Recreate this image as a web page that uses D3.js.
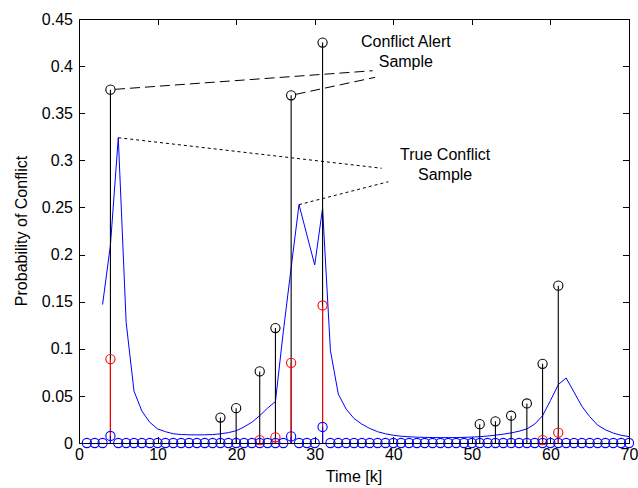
<!DOCTYPE html>
<html>
<head>
<meta charset="utf-8">
<script src="https://cdn.jsdelivr.net/npm/d3@7"></script>
<style>
  html, body { margin: 0; padding: 0; background: #fff; }
  svg { display: block; }
  text { font-family: "Liberation Sans", Arial, Helvetica, sans-serif; }
</style>
</head>
<body>
<svg id="chart" width="638" height="488"></svg>
<script>
// ---- data ----
const xTicks = [0, 10, 20, 30, 40, 50, 60, 70];
const yTicks = [0, 0.05, 0.1, 0.15, 0.2, 0.25, 0.3, 0.35, 0.4, 0.45];
const yTickLabels = ["0", "0.05", "0.1", "0.15", "0.2", "0.25", "0.3", "0.35", "0.4", "0.45"];

// continuous probability curve, k = 3 .. 70
const curveStartK = 3;
const curveV = [
  0.147, 0.210, 0.324, 0.128, 0.055, 0.034, 0.022, 0.015, 0.012, 0.0098,
  0.0090, 0.0087, 0.0086, 0.0087, 0.0090, 0.0097, 0.011, 0.013, 0.017, 0.022,
  0.029, 0.037, 0.044, 0.118, 0.186, 0.253, 0.221, 0.189, 0.249, 0.098,
  0.052, 0.036, 0.026, 0.020, 0.0155, 0.012, 0.0098, 0.0082, 0.0072, 0.0066,
  0.0062, 0.0060, 0.0058, 0.0057, 0.0057, 0.0058, 0.0060, 0.0063, 0.0067, 0.0074,
  0.0083, 0.0094, 0.0107, 0.0125, 0.0150, 0.020, 0.029, 0.045, 0.062, 0.069,
  0.054, 0.039, 0.028, 0.019, 0.0140, 0.0105, 0.0082, 0.0067
];

// sample instants k = 1 .. 70 (blue stems at every sample)
const sampleFirstK = 1, sampleLastK = 70;
const blueK = [4, 27, 31];
const blueV = [0.0075, 0.007, 0.017];

// true conflict samples (red)
const redK = [4, 23, 25, 27, 31, 59, 61];
const redV = [0.089, 0.003, 0.006, 0.085, 0.146, 0.003, 0.011];

// conflict alert samples (black)
const alertK = [4, 18, 20, 23, 25, 27, 31, 51, 53, 55, 57, 59, 61];
const alertV = [0.375, 0.027, 0.037, 0.076, 0.122, 0.369, 0.425, 0.020, 0.023, 0.029, 0.042, 0.084, 0.167];

// annotations (data coordinates)
const alertNoteLines = ["Conflict Alert", "Sample"];
const alertNoteAt = [41.6, 0.4265];
const alertPointers = [[4, 0.375, 37.38, 0.3951], [27, 0.369, 37.7, 0.3881]];
const trueNoteLines = ["True Conflict", "Sample"];
const trueNoteAt = [46.6, 0.3065];
const truePointers = [[5, 0.324, 38.53, 0.2916], [28, 0.253, 39.37, 0.2773]];

const xLabel = "Time [k]";
const yLabel = "Probability of Conflict";

// ---- drawing ----
const W = 638, H = 488;
const M = { left: 79, top: 19, right: 9, bottom: 45 };
const svg = d3.select("#chart");
svg.append("rect").attr("width", W).attr("height", H).attr("fill", "#fff");

const x = d3.scaleLinear().domain([0, 70]).range([M.left, W - M.right]);
const y = d3.scaleLinear().domain([0, 0.45]).range([H - M.bottom, M.top]);
const FS = 16;
const R = 4.6;

// axes
const gx = svg.append("g").attr("transform", `translate(0,${y(0)})`)
  .call(d3.axisBottom(x).tickValues(xTicks).tickFormat(d3.format("d")).tickSizeInner(-6).tickSizeOuter(0).tickPadding(6));
const gxt = svg.append("g").attr("transform", `translate(0,${y(0.45)})`)
  .call(d3.axisTop(x).tickValues(xTicks).tickFormat("").tickSizeInner(-6).tickSizeOuter(0));
const gy = svg.append("g").attr("transform", `translate(${x(0)},0)`)
  .call(d3.axisLeft(y).tickValues(yTicks).tickFormat((d, i) => yTickLabels[i]).tickSizeInner(-6).tickSizeOuter(0).tickPadding(6));
const gyr = svg.append("g").attr("transform", `translate(${x(70)},0)`)
  .call(d3.axisRight(y).tickValues(yTicks).tickFormat("").tickSizeInner(-6).tickSizeOuter(0));
[gx, gxt, gy, gyr].forEach(g => {
  g.selectAll("path,line").attr("stroke", "#000").attr("stroke-width", 1).attr("shape-rendering", "crispEdges");
  g.selectAll("text").attr("font-size", FS).attr("fill", "#000").attr("font-family", "Liberation Sans, Arial, sans-serif");
});

// curve
const curve = curveV.map((v, i) => [curveStartK + i, v]);
svg.append("path").datum(curve)
  .attr("fill", "none").attr("stroke", "#0000ff").attr("stroke-width", 1)
  .attr("d", d3.line().x(d => x(d[0])).y(d => y(d[1])));

function stems(ks, vs, color) {
  const data = ks.map((k, i) => [k, vs[i]]);
  const g = svg.append("g");
  g.selectAll("line").data(data).join("line")
    .attr("x1", d => x(d[0])).attr("x2", d => x(d[0]))
    .attr("y1", y(0)).attr("y2", d => y(d[1]))
    .attr("stroke", color).attr("stroke-width", 1.1);
  g.selectAll("circle").data(data).join("circle")
    .attr("cx", d => x(d[0])).attr("cy", d => y(d[1])).attr("r", R)
    .attr("fill", "none").attr("stroke", color).attr("stroke-width", 1.1);
}
stems(alertK, alertV, "#000");
stems(redK, redV, "#ff0000");
const allK = d3.range(sampleFirstK, sampleLastK + 1);
const allBlueV = allK.map(k => { const j = blueK.indexOf(k); return j >= 0 ? blueV[j] : 0; });
stems(allK, allBlueV, "#0000ff");

// baseline
svg.append("line").attr("x1", x(0)).attr("x2", x(70)).attr("y1", y(0)).attr("y2", y(0))
  .attr("stroke", "#000").attr("shape-rendering", "crispEdges");

// frame
svg.append("rect").attr("x", x(0)).attr("y", y(0.45))
  .attr("width", x(70) - x(0)).attr("height", y(0) - y(0.45))
  .attr("fill", "none").attr("stroke", "#000").attr("shape-rendering", "crispEdges");

// annotation pointers
function pointer(p, dash, offset) {
  const x1 = x(p[0]), y1 = y(p[1]), x2 = x(p[2]), y2 = y(p[3]);
  const len = Math.hypot(x2 - x1, y2 - y1);
  const sx = x1 + (x2 - x1) / len * offset, sy = y1 + (y2 - y1) / len * offset;
  svg.append("line").attr("x1", sx).attr("y1", sy).attr("x2", x2).attr("y2", y2)
    .attr("stroke", "#000").attr("stroke-width", 1).attr("stroke-dasharray", dash);
}
alertPointers.forEach(p => pointer(p, "10,5", R));
truePointers.forEach(p => pointer(p, "3,3", 0));

function note(lines, at) {
  const t = svg.append("text").attr("text-anchor", "middle").attr("font-size", FS).attr("fill", "#000");
  lines.forEach((s, i) => {
    t.append("tspan").attr("x", x(at[0])).attr("y", y(at[1]) + i * 20).attr("dy", "0.35em").text(s);
  });
}
note(alertNoteLines, alertNoteAt);
note(trueNoteLines, trueNoteAt);

// axis labels
svg.append("text").attr("x", (x(0) + x(70)) / 2).attr("y", 482)
  .attr("text-anchor", "middle").attr("font-size", FS).attr("fill", "#000").text(xLabel);
svg.append("text").attr("transform", `translate(27,${(y(0) + y(0.45)) / 2}) rotate(-90)`)
  .attr("text-anchor", "middle").attr("font-size", FS).attr("fill", "#000").text(yLabel);
</script>
</body>
</html>
